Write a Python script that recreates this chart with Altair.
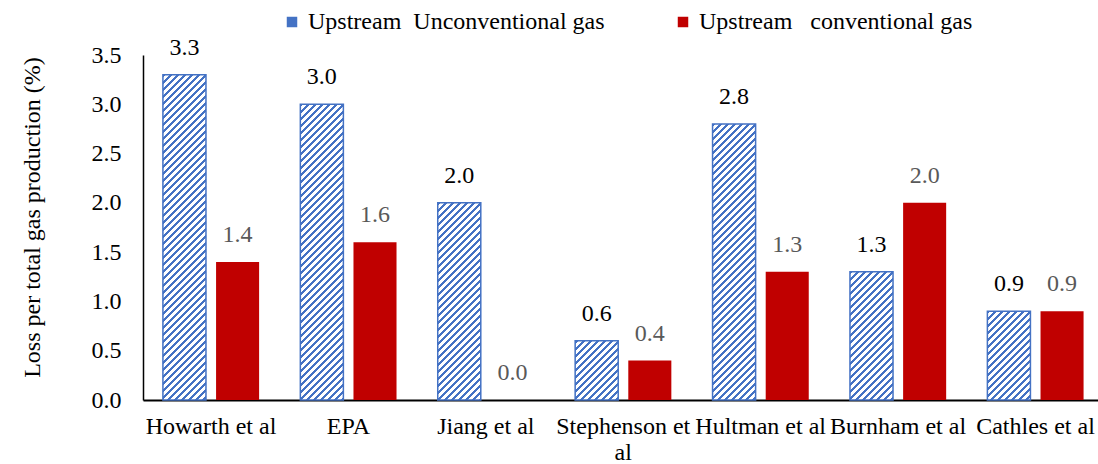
import altair as alt

# ---- data ----
categories = ["Howarth et al", "EPA", "Jiang et al", "Stephenson et al",
              "Hultman et al", "Burnham et al", "Cathles et al"]
unconventional = [3.3, 3.0, 2.0, 0.6, 2.8, 1.3, 0.9]
conventional = [1.4, 1.6, 0.0, 0.4, 1.3, 2.0, 0.9]
series_names = ["Upstream\u00a0 Unconventional gas", "Upstream\u00a0\u00a0 conventional gas"]
y_ticks = [0.0, 0.5, 1.0, 1.5, 2.0, 2.5, 3.0, 3.5]
y_title = "Loss per total gas production (%)"

# ---- styling ----
FONT = "Liberation Serif"
FS = 24
BLUE = "#4472C4"
RED = "#C00000"
W, H, YMAX = 955, 345, 3.5
TOP = 55
PAD_INNER, PAD_OUTER, ALIGN, OFF_PAD = 0.30, 0.125, 0.58, 0.19
STRIPE_PERIOD = 7.0   # pixels along x (and y) between stripes
BLUE_FRAC = 0.45

step = W / (len(categories) - PAD_INNER + 2 * PAD_OUTER)
band = step * (1 - PAD_INNER)
bar_w = band / (2 - OFF_PAD) * (1 - OFF_PAD)


def stripes(value):
    h = max(value / YMAX * H, 1.0)
    w = bar_w
    span = w + h
    k = span / (w * w + h * h)
    stops = []
    i = 0
    while i * STRIPE_PERIOD < span:
        a = i * STRIPE_PERIOD / span
        b = min(1.0, (i + BLUE_FRAC) * STRIPE_PERIOD / span)
        c = min(1.0, (i + 1) * STRIPE_PERIOD / span)
        stops += [{"offset": a, "color": BLUE}, {"offset": b, "color": BLUE},
                  {"offset": b, "color": "#ffffff"}, {"offset": c, "color": "#ffffff"}]
        i += 1
    return {"gradient": "linear", "x1": 0, "y1": 0, "x2": w * k, "y2": h * k, "stops": stops}


records = []
for cat, v in zip(categories, unconventional):
    records.append({"category": cat, "series": series_names[0], "value": v, "grad": stripes(v)})
for cat, v in zip(categories, conventional):
    records.append({"category": cat, "series": series_names[1], "value": v})

data = alt.Data(values=records)

base = alt.Chart(data).encode(
    x=alt.X("category:N", sort=categories,
            scale=alt.Scale(paddingInner=PAD_INNER, paddingOuter=PAD_OUTER, align=ALIGN),
            axis=alt.Axis(title=None, labelAngle=0, ticks=False, domainColor="black",
                          domainWidth=2, labelFont=FONT, labelFontSize=FS, labelColor="black",
                          labelPadding=14, labelLimit=400, labelLineHeight=26,
                          labelExpr="datum.value == 'Stephenson et al' ? ['Stephenson et', 'al'] : datum.value")),
    xOffset=alt.XOffset("series:N", sort=series_names,
                        scale=alt.Scale(paddingInner=OFF_PAD, paddingOuter=0)),
    y=alt.Y("value:Q", scale=alt.Scale(domain=[0, YMAX], nice=False),
            axis=alt.Axis(values=y_ticks, format=".1f", grid=False, ticks=False,
                          domainColor="black", domainWidth=1.5, labelFont=FONT,
                          labelFontSize=FS, labelColor="black", labelPadding=22,
                          title=y_title, titleFont=FONT, titleFontSize=FS,
                          titleFontWeight="normal", titleColor="black",
                          titleX=-99, titleY=162, titleAngle=270)),
)

bars = base.mark_bar().encode(
    color=alt.Color("series:N",
                    scale=alt.Scale(domain=series_names, range=[BLUE, RED]),
                    legend=alt.Legend(orient="none", legendX=137, legendY=-45,
                                      direction="horizontal", title=None,
                                      symbolType="square", symbolSize=110,
                                      symbolStrokeWidth=0, labelFont=FONT,
                                      labelFontSize=FS, labelColor="black",
                                      labelLimit=500, labelOffset=4,
                                      columnPadding=66))
)

stripe_bars = base.transform_filter(
    alt.datum.series == series_names[0]
).mark_bar(stroke=BLUE, strokeWidth=1.5).encode(
    fill=alt.Fill("grad:N", scale=None)
)

labels = base.mark_text(baseline="bottom", dy=-15, font=FONT, fontSize=FS).encode(
    text=alt.Text("value:Q", format=".1f"),
    color=alt.condition(alt.datum.series == series_names[0],
                        alt.value("#000000"), alt.value("#595959")),
)

chart = alt.layer(bars, stripe_bars, labels).properties(
    width=W, height=H,
    autosize=alt.AutoSizeParams(type="none"),
    padding={"left": 143, "top": TOP, "right": 0, "bottom": 464 - TOP - H},
    background="white",
).configure_view(stroke=None)

chart.save("out.html", embed_options={"renderer": "svg", "actions": False})
